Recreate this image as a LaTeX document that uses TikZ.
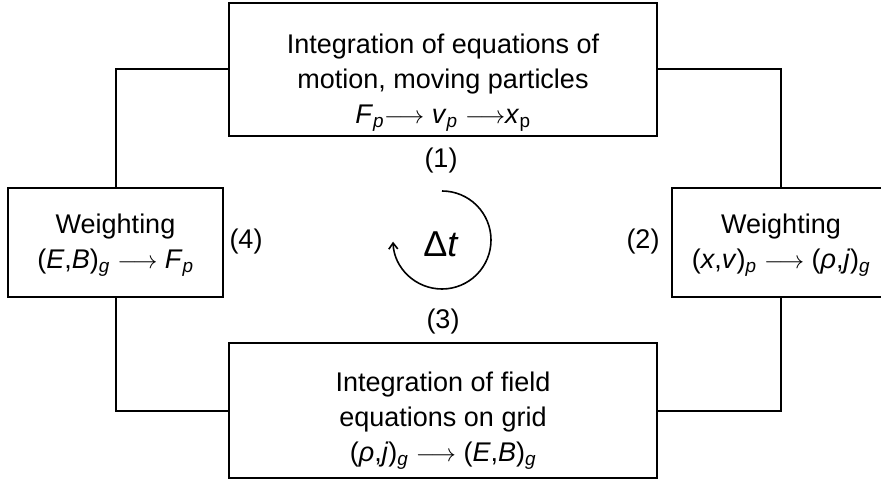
\documentclass[tikz,border=0pt]{standalone}
\usepackage{fontspec}
\setmainfont{Liberation Sans}
\usetikzlibrary{arrows.meta}
\newcommand{\vsub}[2]{\textit{#1}\textsubscript{\textit{#2}}}
\newcommand{\lto}{$\longrightarrow$}

\begin{document}
\begin{tikzpicture}[x=1pt, y=1pt, >={Straight Barb[length=6pt,width=9pt]},
  every node/.style={font=\fontsize{27}{35}\selectfont},
  stepbox/.style={draw, line width=2pt, inner sep=0pt},
  steptext/.style={align=center, inner sep=0pt},
  link/.style={line width=2pt}]
  \useasboundingbox (0,0) rectangle (881,483);
  \clip (0,0) rectangle (881,483);
  % Boxes
  \node[stepbox, minimum width=428pt, minimum height=133pt] (motion) at (443,413.5) {};
  \node[stepbox, minimum width=218pt, minimum height=109pt] (weightJ) at (781,240.5) {};
  \node[stepbox, minimum width=428pt, minimum height=135pt] (field) at (443,72.5) {};
  \node[stepbox, minimum width=215pt, minimum height=109pt] (weightF) at (115.5,240.5) {};
  % Box texts
  \node[steptext] (motiontext) at ([yshift=-13pt]motion.center)
    {Integration of equations of\\ motion, moving particles\\
     \vsub{F}{p}\lto\ \vsub{v}{p} \lto\textit{x}\textsubscript{p}};
  \node[steptext] (weightJtext) at ([yshift=-3pt]weightJ.center)
    {Weighting\\ (\textit{x},\textit{v})\textsubscript{\textit{p}} \lto\ (\textit{ρ},\textit{j})\textsubscript{\textit{g}}};
  \node[steptext] (fieldtext) at ([yshift=-10pt]field.center)
    {Integration of field\\ equations on grid\\
     (\textit{ρ},\textit{j})\textsubscript{\textit{g}} \lto\ (\textit{E},\textit{B})\textsubscript{\textit{g}}};
  \node[steptext] (weightFtext) at ([yshift=-3pt]weightF.center)
    {Weighting\\ (\textit{E},\textit{B})\textsubscript{\textit{g}} \lto\ \vsub{F}{p}};
  % Connectors
  \draw[link] (weightF.north) |- (motion.west);
  \draw[link] (motion.east) -| (weightJ.north);
  \draw[link] (weightJ.south) |- (field.east);
  \draw[link] (field.west) -| (weightF.south);
  % Time step loop
  \node (dt) at (441,239) {\fontsize{36}{36}\selectfont Δ\textit{t}};
  \coordinate (looptop) at (442,292);
  \draw[->, line width=1.6pt] (looptop) arc[start angle=90, end angle=-178, radius=49];
  % Step numbers
  \node (s1) at (441,322) {(1)};
  \node (s2) at (643,241) {(2)};
  \node (s3) at (443,161) {(3)};
  \node (s4) at (246,241) {(4)};
\end{tikzpicture}
\end{document}
